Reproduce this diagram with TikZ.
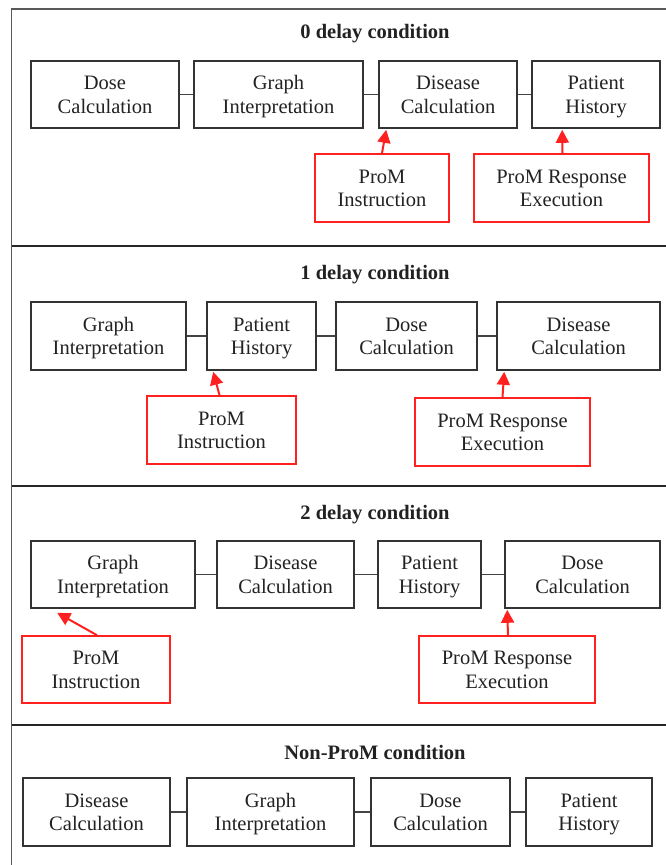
\documentclass[tikz,border=0pt]{standalone}
\usepackage{fontspec}
\setmainfont{Liberation Serif}
\usetikzlibrary{arrows.meta}
\definecolor{boxgray}{HTML}{333333}
\definecolor{linegray}{HTML}{444444}
\definecolor{txtgray}{HTML}{222222}
\definecolor{promred}{HTML}{FF2020}
\tikzset{
  stepbox/.style={draw=boxgray, line width=1.6pt, rectangle, inner sep=0pt, align=center,
    font=\fontsize{20.5}{23.5}\selectfont, text=txtgray},
  redbox/.style={stepbox, draw=promred, line width=1.6pt},
  title/.style={font=\bfseries\fontsize{20.5}{24}\selectfont, text=txtgray, inner sep=0pt},
  link/.style={draw=linegray, line width=1.8pt},
  arr/.style={draw=promred, line width=2pt, -{Triangle[length=13pt,width=13pt]}},
  sep/.style={draw=black!85, line width=2pt},
  frame/.style={draw=black!65, line width=1.2pt}
}
\newcommand\bx[7]{\node[#1, minimum width={(#5-#3)*1pt}, minimum height={(#6-#4)*1pt}] (#2) at ({(#3+#5)/2},{(#4+#6)/2}) {\raisebox{-2.5pt}[\height][\depth]{\begin{tabular}{@{}c@{}}#7\end{tabular}}};}
\begin{document}
\begin{tikzpicture}[x=1pt,y=-1pt]
\useasboundingbox (0,0) rectangle (666,865);
% frame
\draw[frame] (666,9) -- (11.5,9) -- (11.5,865);
\draw[sep] (11.5,245.5) -- (666,245.5);
\draw[sep] (11.5,486) -- (666,486);
\draw[sep] (11.5,725) -- (666,725);

% Panel 1
\node[title] (t0) at (375,34) {0 delay condition};
\bx{stepbox}{a1}{31}{61}{179}{128}{Dose\\Calculation}
\bx{stepbox}{a2}{194}{61}{363}{128}{Graph\\Interpretation}
\bx{stepbox}{a3}{379}{61}{517}{128}{Disease\\Calculation}
\bx{stepbox}{a4}{532}{61}{660}{128}{Patient\\History}
\bx{redbox}{ar1}{315}{154}{449}{222}{ProM\\Instruction}
\bx{redbox}{ar2}{474}{154}{649}{222}{ProM Response\\Execution}
\draw[link] (a1) -- (a2);
\draw[link] (a2) -- (a3);
\draw[link] (a3) -- (a4);
\draw[arr] ([xshift=0pt]ar1.north) -- ([xshift=8pt,yshift=-1pt]a3.south west);
\draw[arr] ([xshift=1pt]ar2.north) -- ([xshift=31pt,yshift=-1pt]a4.south west);

% Panel 2
\node[title] (t1) at (375,275) {1 delay condition};
\bx{stepbox}{b1}{31}{302}{186}{370}{Graph\\Interpretation}
\bx{stepbox}{b2}{207}{302}{316}{370}{Patient\\History}
\bx{stepbox}{b3}{336}{302}{477}{370}{Dose\\Calculation}
\bx{stepbox}{b4}{497}{302}{660}{370}{Disease\\Calculation}
\bx{redbox}{br1}{147}{396}{296}{464}{ProM\\Instruction}
\bx{redbox}{br2}{415}{398}{590}{466}{ProM Response\\Execution}
\draw[link] (b1) -- (b2);
\draw[link] (b2) -- (b3);
\draw[link] (b3) -- (b4);
\draw[arr] ([xshift=-2pt]br1.north) -- ([xshift=7pt,yshift=-1pt]b2.south west);
\draw[arr] ([xshift=0pt]br2.north) -- ([xshift=8pt,yshift=-1pt]b4.south west);

% Panel 3
\node[title] (t2) at (375,515) {2 delay condition};
\bx{stepbox}{c1}{31}{541}{195}{608}{Graph\\Interpretation}
\bx{stepbox}{c2}{217}{541}{354}{608}{Disease\\Calculation}
\bx{stepbox}{c3}{378}{541}{481}{608}{Patient\\History}
\bx{stepbox}{c4}{505}{541}{660}{608}{Dose\\Calculation}
\bx{redbox}{cr1}{22}{636}{170}{703}{ProM\\Instruction}
\bx{redbox}{cr2}{419}{636}{595}{703}{ProM Response\\Execution}
\draw[link] (c1) -- (c2);
\draw[link] (c2) -- (c3);
\draw[link] (c3) -- (c4);
\draw[arr] ([xshift=1pt]cr1.north) -- ([xshift=27pt,yshift=-4pt]c1.south west);
\draw[arr] ([xshift=1pt]cr2.north) -- ([xshift=3pt,yshift=-1pt]c4.south west);

% Panel 4
\node[title] (t3) at (375,752) {Non-ProM condition};
\bx{stepbox}{d1}{23}{778}{170}{846}{Disease\\Calculation}
\bx{stepbox}{d2}{187}{778}{354}{846}{Graph\\Interpretation}
\bx{stepbox}{d3}{371}{778}{510}{846}{Dose\\Calculation}
\bx{stepbox}{d4}{526}{778}{652}{846}{Patient\\History}
\draw[link] (d1) -- (d2);
\draw[link] (d2) -- (d3);
\draw[link] (d3) -- (d4);
\end{tikzpicture}
\end{document}
